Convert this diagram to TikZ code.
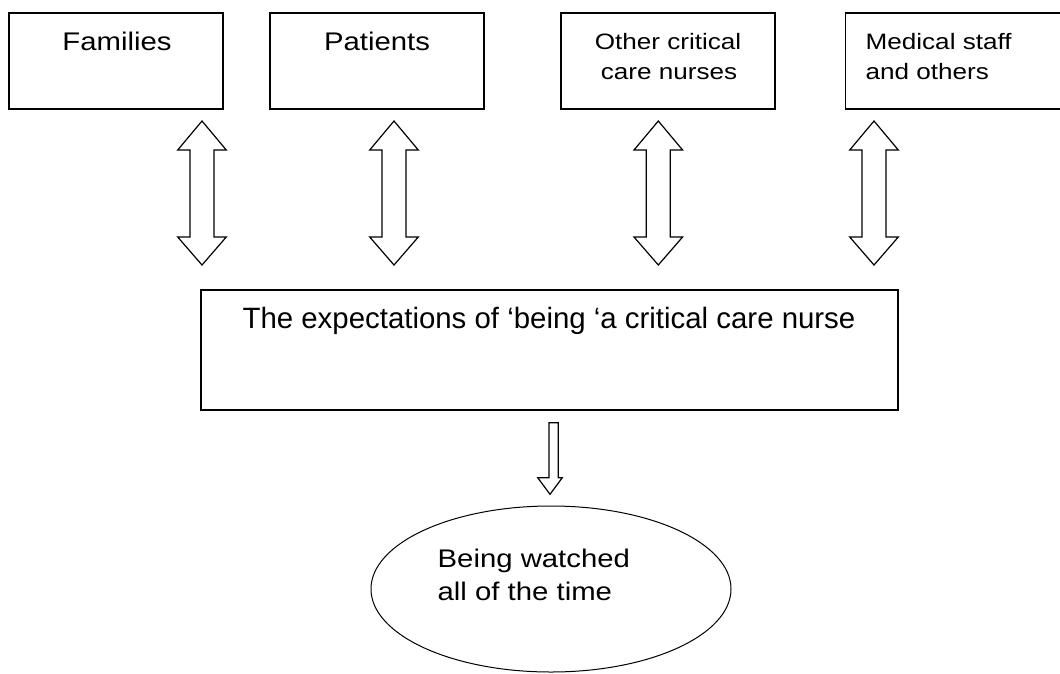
\documentclass[tikz,border=0pt]{standalone}
\usepackage{fontspec}
\setmainfont{Liberation Sans}
\newfontfamily\wfont[FakeStretch=1.15]{Liberation Sans}
\newfontfamily\wfontb[FakeStretch=1.17]{Liberation Sans}
\usetikzlibrary{shapes.geometric}
\begin{document}
\begin{tikzpicture}[x=1pt,y=-1pt, line width=1.3pt,
  box/.style={draw, rectangle, minimum width=214pt, minimum height=96pt, inner sep=0pt},
  blockarrow/.style={draw, line width=1.2pt, line join=miter, fill=white},
  big/.style={font=\wfont\fontsize{25.5}{30}\selectfont, inner sep=0pt},
  small/.style={font=\wfontb\fontsize{22.3}{30}\selectfont, inner sep=0pt},
  mainf/.style={font=\fontsize{29.4}{34}\selectfont, inner sep=0pt}]
\clip (0,0) rectangle (1060,673);
% top boxes
\node[box] (fam) at (116,61) {};
\node[box] (pat) at (377,61) {};
\node[box] (ocn) at (668,61) {};
\node[box, minimum width=240pt, anchor=west] (med) at (845,61) {};
% texts
\node[big, anchor=base] (famt) at (117,50) {Families};
\node[big, anchor=base] (patt) at (377,50) {Patients};
\node[small, anchor=base] (ocn1) at (668,49) {Other critical};
\node[small, anchor=base] (ocn2) at (669,79) {care nurses};
\node[small, anchor=base west] (med1) at (865,49) {Medical staff};
\node[small, anchor=base west] (med2) at (865,79) {and others};
% main box
\node[box, minimum width=697pt, minimum height=120pt] (exp) at (549.5,350) {};
\node[mainf, anchor=base] (expt) at (549,328) {The expectations of ‘being ‘a critical care nurse};
% ellipse
\node[draw, ellipse, line width=1pt, minimum width=360pt, minimum height=166pt, inner sep=0pt] (watch) at (551,589) {};
\node[big, anchor=base west] (w1) at (437,567) {Being watched};
\node[big, anchor=base west] (w2) at (437,600) {all of the time};
% double block arrows
\foreach \x in {202,394,658.3,874} {
  \draw[blockarrow] (\x,121) -- (\x+24.3,150) -- (\x+12,150) -- (\x+12,237) -- (\x+24.3,237)
    -- (\x,265) -- (\x-24.3,237) -- (\x-12,237) -- (\x-12,150) -- (\x-24.3,150) -- cycle;
}
% single block arrow
\draw[blockarrow] (549,422.7) -- (558.3,422.7) -- (558.3,477.7) -- (562.3,477.7)
  -- (550,494.3) -- (537.7,477.7) -- (549,477.7) -- cycle;
\end{tikzpicture}
\end{document}
